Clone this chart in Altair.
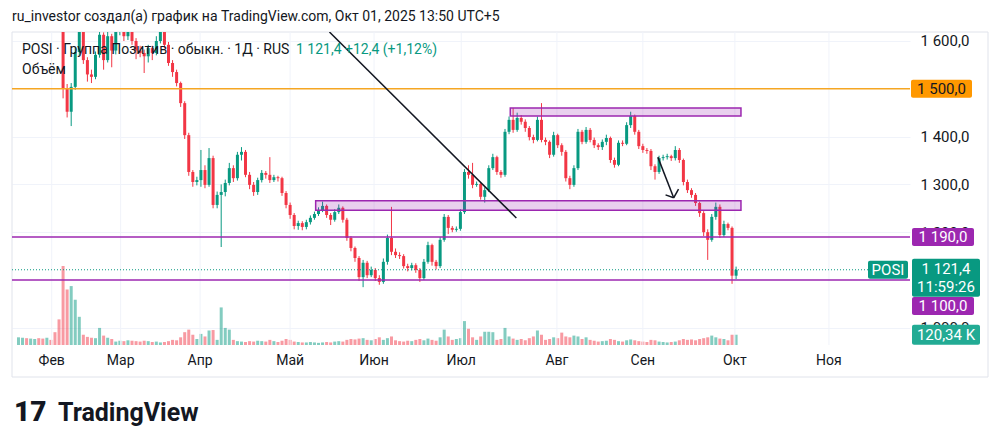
import altair as alt
import pandas as pd

# ---------------- data ----------------
opens = [1680,1690,1700,1685,1695,1710,1700,1690,1705,1690,1680,1660,1500,1452,1504,1577,1630,1560,1530,1525,
         1571,1613,1560,1610,1580,1620,1640,1610,1630,1600,1580,1575,1568,1585,1575,1600,1620,1592,1554,1535,
         1512,1470,1403,1326,1305,1309,1330,1299,1355,1257,1278,1284,1303,1334,1313,1362,1368,1320,1299,1284,
         1309,1324,1320,1309,1315,1313,1282,1257,1236,1213,1219,1211,1221,1230,1238,1246,1255,1236,1226,1242,
         1251,1226,1188,1167,1146,1106,1136,1110,1121,1104,1096,1138,1188,1159,1152,1150,1129,1125,1131,1121,
         1104,1138,1173,1138,1129,1184,1232,1209,1205,1207,1242,1326,1320,1299,1301,1274,1288,1334,1357,1326,
         1320,1410,1435,1414,1439,1431,1418,1399,1393,1435,1393,1389,1362,1403,1382,1368,1313,1299,1334,1410,
         1389,1414,1393,1382,1378,1389,1397,1351,1341,1387,1385,1424,1443,1410,1380,1372,1370,1338,1326,1355,
         1357,1359,1355,1372,1351,1305,1288,1278,1261,1240,1200,1184,1232,1253,1194,1217,1209,1109]
closes = [1690,1700,1685,1695,1710,1700,1690,1705,1690,1680,1660,1500,1452,1504,1577,1630,1560,1530,1525,1571,
          1613,1560,1610,1580,1620,1640,1610,1630,1600,1580,1575,1568,1585,1575,1600,1620,1592,1554,1535,1512,
          1470,1403,1326,1305,1309,1330,1299,1355,1257,1278,1284,1303,1334,1313,1362,1368,1320,1299,1284,1309,
          1324,1320,1309,1315,1313,1282,1257,1236,1213,1219,1211,1221,1230,1238,1246,1255,1236,1226,1242,1251,
          1226,1188,1167,1146,1106,1136,1110,1121,1104,1096,1138,1188,1159,1152,1150,1129,1125,1131,1121,1104,
          1138,1173,1138,1129,1184,1232,1209,1205,1207,1242,1326,1320,1299,1301,1274,1288,1334,1357,1326,1320,
          1410,1435,1414,1439,1431,1418,1399,1393,1435,1393,1389,1362,1403,1382,1368,1313,1299,1334,1410,1389,
          1414,1393,1382,1378,1389,1397,1351,1341,1387,1385,1424,1443,1410,1380,1372,1370,1338,1326,1355,1357,
          1359,1355,1372,1351,1305,1288,1278,1261,1240,1200,1184,1232,1253,1194,1217,1209,1109,1121.4]
highs = [1700,1712,1706,1704,1722,1716,1705,1712,1708,1696,1686,1664,1510,1512,1585,1650,1636,1566,1540,1578,
         1640,1618,1640,1615,1632,1655,1645,1640,1636,1606,1590,1582,1592,1590,1610,1640,1626,1598,1560,1540,
         1515,1474,1408,1330,1316,1372,1340,1376,1360,1285,1300,1310,1345,1340,1368,1378,1372,1326,1305,1314,
         1330,1328,1357,1320,1318,1316,1286,1262,1240,1224,1223,1226,1235,1243,1252,1264,1258,1240,1248,1258,
         1254,1230,1192,1170,1150,1142,1140,1128,1125,1110,1145,1195,1253,1166,1158,1154,1134,1136,1135,1125,
         1144,1180,1176,1142,1190,1238,1236,1213,1212,1248,1332,1340,1345,1306,1304,1294,1340,1364,1360,1330,
         1416,1442,1460,1450,1445,1436,1422,1404,1442,1470,1398,1392,1410,1406,1386,1372,1318,1340,1416,1414,
         1420,1418,1398,1386,1394,1404,1400,1356,1392,1392,1430,1452,1446,1414,1385,1376,1374,1342,1360,1362,
         1364,1362,1380,1376,1354,1310,1292,1282,1264,1244,1206,1238,1262,1258,1224,1220,1212,1128]
lows = [1672,1682,1676,1678,1690,1692,1680,1684,1680,1668,1640,1480,1440,1422,1498,1570,1552,1515,1512,1520,
        1565,1540,1555,1545,1572,1612,1600,1602,1592,1562,1566,1533,1555,1560,1570,1595,1585,1548,1525,1505,
        1462,1395,1318,1295,1298,1295,1292,1295,1250,1250,1169,1275,1298,1305,1308,1350,1315,1290,1276,1278,
        1304,1312,1303,1305,1306,1276,1250,1228,1206,1205,1204,1206,1216,1226,1234,1242,1230,1215,1222,1238,
        1220,1182,1160,1138,1098,1085,1104,1106,1098,1090,1092,1132,1152,1146,1144,1124,1118,1120,1115,1096,
        1100,1134,1130,1122,1125,1180,1196,1200,1201,1203,1238,1312,1292,1295,1268,1262,1284,1330,1320,1314,
        1316,1405,1408,1410,1425,1410,1392,1386,1390,1388,1382,1355,1358,1376,1360,1306,1290,1295,1330,1384,
        1385,1388,1376,1372,1372,1382,1345,1335,1338,1380,1382,1418,1404,1374,1366,1364,1330,1310,1322,1350,
        1352,1349,1350,1345,1298,1282,1272,1255,1232,1192,1142,1180,1226,1188,1190,1204,1092,1102]
volumes = [90,85,80,75,70,80,75,85,60,150,300,925,650,690,530,330,120,95,85,80,
           200,110,85,70,40,50,45,55,50,45,40,50,45,35,40,30,35,45,60,55,
           90,150,180,120,70,130,100,170,175,60,440,200,180,60,45,40,35,45,40,50,
           45,40,60,45,35,50,70,60,40,35,30,30,35,30,25,30,35,30,40,45,
           40,60,70,65,75,80,60,55,70,90,60,80,100,55,45,40,50,45,60,70,
           55,75,60,50,90,180,100,60,70,80,280,190,90,60,100,155,155,150,60,70,
           200,100,75,60,70,55,80,100,170,120,60,70,90,80,145,100,90,110,100,70,
           90,60,50,40,45,50,70,60,45,40,55,65,55,45,40,35,60,55,40,35,
           30,35,40,55,70,60,65,55,70,80,90,110,90,75,70,55,120,120.34]
bar_idx = list(range(len(closes)))

month_names = ["Фев", "Мар", "Апр", "Май", "Июн", "Июл", "Авг", "Сен", "Окт", "Ноя"]
month_pos = [8.2, 25.2, 44.8, 67.0, 87.7, 109.2, 132.8, 154.0, 176.7, 199.9]
price_ticks = [1000, 1200, 1300, 1400, 1600]

level_prices = [1500, 1190, 1100]
level_colors = ["#f5a623", "#9c27b0", "#9c27b0"]
last_price = 1121.4

# drawings (bar index, price)
box_x1 = [121.3, 73.3]
box_x2 = [178.2, 178.2]
box_p1 = [1443, 1246]
box_p2 = [1460, 1266]
seg_x1 = [76.7, 157.7, 161.6, 161.6]
seg_p1 = [1618.8, 1357, 1272, 1272]
seg_x2 = [122.8, 161.6, 159.6, 162.8]
seg_p2 = [1229.7, 1272, 1278, 1290]

GREEN = "#089981"
RED = "#f23645"
PURPLE = "#9c27b0"
FONT = "Roboto"
W, H = 898, 313

df = pd.DataFrame({"idx": bar_idx, "open": opens, "high": highs, "low": lows,
                   "close": closes, "vol": volumes})

xs = alt.Scale(domain=[-0.366, 218.66], nice=False, zero=False)
ys = alt.Scale(domain=[964, 1618.8], nice=False, zero=False)
vs = alt.Scale(domain=[0, 3665], nice=False, zero=True)
one = pd.DataFrame({"k": [0]})

price_axis = alt.Axis(orient="right", values=price_ticks, title=None, domain=False, ticks=False,
                      labelPadding=10, labelFont=FONT, labelFontSize=15, labelColor="#131722",
                      gridColor="#f0f3fa", grid=True, labelAlign="left",
                      labelExpr="replace(replace(format(datum.value, ',.1f'), ',', ' '), '.', ',')")

def X(f):
    return alt.X(f, type="quantitative", scale=xs, axis=None)

def Y(f):
    return alt.Y(f, type="quantitative", scale=ys, axis=price_axis)

color_cond = alt.condition("datum.close >= datum.open", alt.value(GREEN), alt.value(RED))

# ---------- volume group ----------
vol_bars = alt.Chart(df).mark_bar(size=3, clip=True, opacity=0.5).encode(
    x=X("idx"), y=alt.Y("vol:Q", scale=vs, axis=None), color=color_cond)
vol_box = alt.Chart(pd.DataFrame({"v": [volumes[-1]]})).mark_rect(
    color="#22ab94", yOffset=-10, y2Offset=10, cornerRadius=2).encode(
    x=alt.value(900), x2=alt.value(968), y=alt.Y("v:Q", scale=vs, axis=None), y2="v:Q")
vol_txt = alt.Chart(pd.DataFrame({"v": [volumes[-1]], "t": ["120,34 K"]})).mark_text(
    color="white", font=FONT, fontSize=15, baseline="middle").encode(
    x=alt.value(934), y=alt.Y("v:Q", scale=vs, axis=None), text="t:N")
vol_group = alt.layer(vol_bars, vol_box, vol_txt)

# ---------- price group ----------
frame = alt.Chart(one).mark_rect(fillOpacity=0, stroke="#e0e3eb", strokeWidth=1).encode(
    x=alt.value(0), x2=alt.value(976), y=alt.value(0), y2=alt.value(345))

mdf = pd.DataFrame({"idx": month_pos, "m": month_names})
vgrid = alt.Chart(mdf).mark_rule(color="#f0f3fa", strokeWidth=1).encode(
    x=X("idx"), y=alt.value(0), y2=alt.value(H))
mtext = alt.Chart(mdf).mark_text(font=FONT, fontSize=14, color="#131722", baseline="middle").encode(
    x=X("idx"), y=alt.value(H + 16), text="m:N")

wicks = alt.Chart(df).mark_rule(strokeWidth=1, clip=True).encode(
    x=X("idx"), y=Y("low"), y2="high:Q", color=color_cond)
bodies = alt.Chart(df).mark_bar(size=3, clip=True).encode(
    x=X("idx"), y=Y("open"), y2="close:Q", color=color_cond)

ldf = pd.DataFrame({"p": level_prices, "c": level_colors})
levels = alt.Chart(ldf).mark_rule(strokeWidth=1.5).encode(
    x=alt.value(0), x2=alt.value(W), y=Y("p"), color=alt.Color("c:N", scale=None))
lastdf = pd.DataFrame({"p": [last_price]})
lastline = alt.Chart(lastdf).mark_rule(strokeWidth=1, strokeDash=[1, 2], color=GREEN).encode(
    x=alt.value(0), x2=alt.value(856), y=Y("p"))

bdf = pd.DataFrame({"x1": box_x1, "x2": box_x2, "p1": box_p1, "p2": box_p2})
boxes = alt.Chart(bdf).mark_rect(fill=PURPLE, fillOpacity=0.22, stroke=PURPLE, strokeWidth=1.5).encode(
    x=X("x1"), x2="x2:Q", y=Y("p1"), y2="p2:Q")

sdf = pd.DataFrame({"x1": seg_x1, "p1": seg_p1, "x2": seg_x2, "p2": seg_p2})
segs = alt.Chart(sdf).mark_rule(color="#131722", strokeWidth=1.5, clip=True).encode(
    x=X("x1"), y=Y("p1"), x2="x2:Q", y2="p2:Q")

def price_box(price, x1, x2, off1, off2, fill, text_lines, tcolor):
    d = pd.DataFrame({"p": [price]})
    r = alt.Chart(d).mark_rect(color=fill, yOffset=off1, y2Offset=off2, cornerRadius=2).encode(
        x=alt.value(x1), x2=alt.value(x2), y=Y("p"), y2="p:Q")
    layers = [r]
    for k, t in enumerate(text_lines):
        td = pd.DataFrame({"p": [price], "t": [t]})
        layers.append(alt.Chart(td).mark_text(
            color=tcolor, font=FONT, fontSize=15, baseline="middle",
            dy=(off1 + off2) / 2 - (len(text_lines) - 1) * 9 + k * 18).encode(
            x=alt.value((x1 + x2) / 2), y=Y("p"), text="t:N"))
    return layers

pb = []
pb += price_box(1500, 899, 960, -9, 9, "#ff9800", ["1 500,0"], "#131722")
pb += price_box(1190, 900, 962, -9, 9, PURPLE, ["1 190,0"], "white")
pb += price_box(last_price, 900, 968, -11, 27, GREEN, ["1 121,4", "11:59:26"], "white")
pb += price_box(1100, 900, 962, 17, 35, PURPLE, ["1 100,0"], "white")
pb += price_box(last_price, 856, 896, -9, 9, GREEN, ["POSI"], "white")

def label(txt, x, y, size, color, weight="normal"):
    return alt.Chart(pd.DataFrame({"t": [txt]})).mark_text(
        font=FONT, fontSize=size, color=color, fontWeight=weight, align="left", baseline="middle").encode(
        x=alt.value(x), y=alt.value(y), text="t:N")

texts = [
    label("ru_investor создал(а) график на TradingView.com, Окт 01, 2025 13:50 UTC+5", 0, -15, 14, "#131722"),
    label("POSI · Группа Позитив · обыкн. · 1Д · RUS", 10, 18, 14, "#131722"),
    label("1 121,4  +12,4 (+1,12%)", 284, 18, 14, GREEN),
    label("Объём", 10, 38, 14, "#131722"),
    label("17", 2, 381, 28, "#131722", 900),
    label("TradingView", 46, 381, 25, "#131722", "bold"),
]

price_group = alt.layer(frame, vgrid, wicks, bodies, levels, lastline, boxes, segs, mtext, *pb, *texts)

chart = alt.layer(vol_group, price_group).resolve_scale(y="independent").properties(
    width=W, height=H, autosize=alt.AutoSizeParams(type="none"),
    padding={"left": 12, "top": 32, "right": 90, "bottom": 103},
    background="white",
).configure_view(stroke=None)

chart.save("out.html", embed_options={"renderer": "svg", "actions": False})
